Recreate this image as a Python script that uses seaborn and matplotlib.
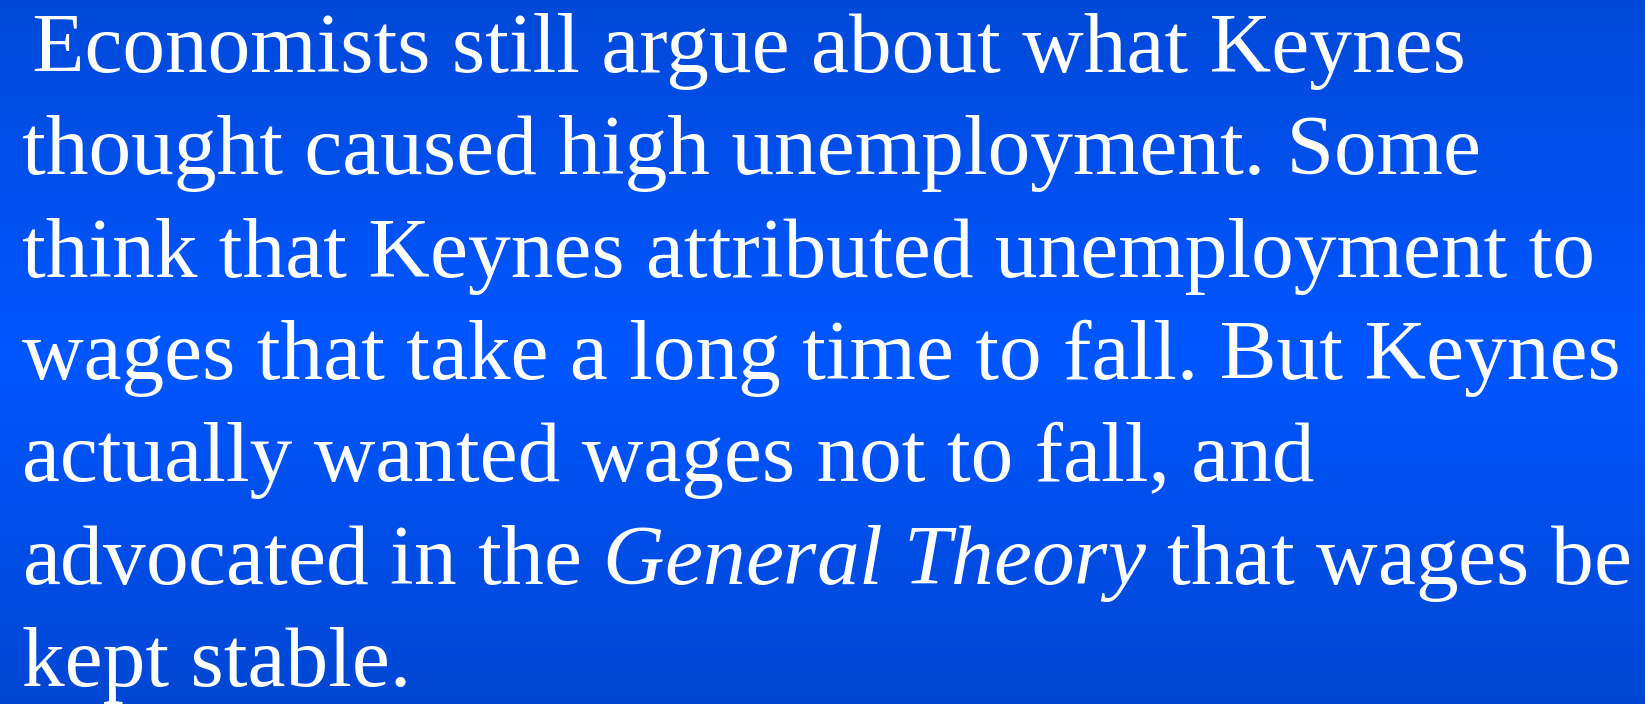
import numpy as np
import matplotlib.pyplot as plt
import seaborn as sns
from matplotlib.colors import LinearSegmentedColormap

sns.set_theme(style="white")
plt.rcParams.update({
    'font.family': ['Liberation Serif', 'DejaVu Serif'],
    'mathtext.fontset': 'custom',
    'mathtext.rm': 'Liberation Serif',
    'mathtext.it': 'Liberation Serif:italic',
})

# slide text, one entry per line
lines = [
    " Economists still argue about what Keynes",
    "thought caused high unemployment. Some",
    "think that Keynes attributed unemployment to",
    "wages that take a long time to fall. But Keynes",
    "actually wanted wages not to fall, and",
    r"advocated in the $\mathit{General\ Theory}$ that wages be",
    "kept stable.",
]
# left edge of each line, in pixels
line_x = [11, 22, 22, 22, 22, 22, 22]

# background blue ramp (top, middle, bottom)
bg_colors = ["#0049D8", "#0056FF", "#0046D2"]

fig = plt.figure(figsize=(16.45, 7.04), dpi=100)
ax = fig.add_axes([0, 0, 1, 1])

cmap = LinearSegmentedColormap.from_list("slide", bg_colors)
grad = np.repeat(np.linspace(0, 1, 256)[:, None], 4, axis=1)
sns.heatmap(grad, cmap=cmap, cbar=False, ax=ax, xticklabels=False, yticklabels=False)
ax.set_axis_off()

top = 72 / 704
step = 102.3 / 704
for i, txt in enumerate(lines):
    fig.text(line_x[i] / 1645, 1 - (top + i * step), txt, color="white", fontsize=61.5,
             ha="left", va="baseline")

fig.savefig("out.png", dpi=100)
